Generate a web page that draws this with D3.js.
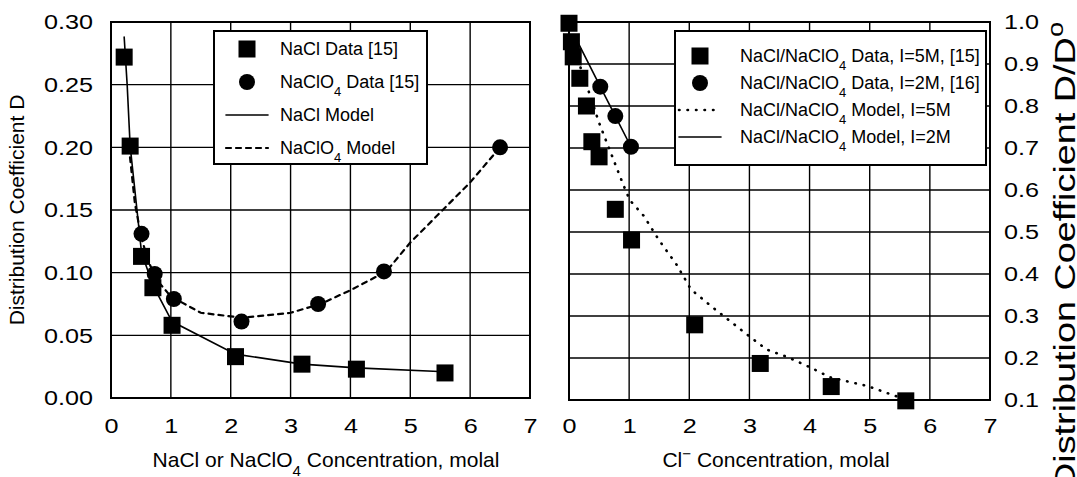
<!DOCTYPE html>
<meta charset="utf-8">
<title>Distribution coefficient D vs concentration</title>
<script src="https://cdn.jsdelivr.net/npm/d3@7"></script>
<style>
body {
	margin: 0;
	background: #fff;
}
svg {
	display: block;
	font-family: 'Liberation Sans', Arial, Helvetica, sans-serif;
}
</style>
<body>
<script>
// Left panel: D vs NaCl or NaClO4 concentration (molal)
const naclData = [
	[0.22, 0.272], [0.32, 0.201], [0.51, 0.113], [0.70, 0.088], [1.02, 0.058],
	[2.08, 0.033], [3.19, 0.027], [4.10, 0.023], [5.58, 0.020],
];
const naclo4Data = [
	[0.51, 0.131], [0.73, 0.099], [1.05, 0.079], [2.18, 0.061],
	[3.46, 0.075], [4.56, 0.101], [6.50, 0.200],
];
const naclModel = [
	[0.22, 0.288], [0.27, 0.250], [0.32, 0.201], [0.51, 0.116], [0.70, 0.090],
	[1.02, 0.061], [2.08, 0.035], [3.19, 0.027], [4.10, 0.024], [5.58, 0.021],
];
const naclo4Model = [
	[0.30, 0.200], [0.40, 0.155], [0.50, 0.130], [0.60, 0.112], [0.75, 0.095],
	[1.00, 0.081], [1.50, 0.068], [2.20, 0.064], [3.00, 0.068], [3.50, 0.075],
	[4.00, 0.086], [4.60, 0.101], [5.00, 0.124], [5.50, 0.148], [6.00, 0.172],
	[6.50, 0.200],
];

// Right panel: D/D0 vs Cl- concentration (molal)
const mix5Data = [
	[0.00, 0.997], [0.04, 0.953], [0.07, 0.917], [0.18, 0.866], [0.29, 0.800],
	[0.38, 0.715], [0.50, 0.679], [0.77, 0.554], [1.04, 0.481], [2.09, 0.279],
	[3.18, 0.187], [4.36, 0.132], [5.60, 0.098],
];
const mix2Data = [
	[0.52, 0.846], [0.77, 0.776], [1.03, 0.703],
];
const mix5Model = [
	[0.10, 0.930], [0.32, 0.838], [0.50, 0.760], [0.71, 0.683], [0.89, 0.617],
	[1.01, 0.576], [1.24, 0.539], [1.50, 0.480], [1.79, 0.422], [2.03, 0.363],
	[2.41, 0.318], [3.04, 0.247], [3.29, 0.220], [3.62, 0.203], [4.02, 0.177],
	[4.34, 0.154], [4.97, 0.133], [5.46, 0.108], [5.60, 0.100],
];
const mix2Model = [
	[0.10, 0.965], [0.52, 0.846], [0.77, 0.776], [1.03, 0.703],
];

const xTicks = [0, 1, 2, 3, 4, 5, 6, 7];
const leftYTicks = [0, 0.05, 0.10, 0.15, 0.20, 0.25, 0.30];
const rightYTicks = [0.1, 0.2, 0.3, 0.4, 0.5, 0.6, 0.7, 0.8, 0.9, 1.0];

// Layout
const width = 1077;
const height = 477;
const tickFont = 21;
const tickStretch = 1.2;
const titleFont = 21;
const legendFont = 18;
const squareSize = 17;
const circleRadius = 8;

const svg = d3.select('body')
	.append('svg')
		.attr('width', width)
		.attr('height', height);

const xLeft = d3.scaleLinear().domain([0, 7]).range([111, 530]);
const yLeft = d3.scaleLinear().domain([0, 0.30]).range([398, 22]);
const xRight = d3.scaleLinear().domain([0, 7]).range([569, 990]);
const yRight = d3.scaleLinear().domain([0.1, 1.0]).range([400, 22]);

function drawFrame(x, y, yTicks) {
	const [x0, x1] = x.range();
	const [y0, y1] = y.range();
	const g = svg.append('g');
	g.selectAll('.vgrid')
		.data(xTicks.slice(1, -1))
		.enter()
		.append('line')
			.attr('x1', d => x(d))
			.attr('x2', d => x(d))
			.attr('y1', y0)
			.attr('y2', y1)
			.attr('stroke', '#000')
			.attr('stroke-width', 1.4);
	g.selectAll('.hgrid')
		.data(yTicks.slice(1, -1))
		.enter()
		.append('line')
			.attr('x1', x0)
			.attr('x2', x1)
			.attr('y1', d => y(d))
			.attr('y2', d => y(d))
			.attr('stroke', '#000')
			.attr('stroke-width', 1.4);
	g.append('rect')
		.attr('x', x0)
		.attr('y', y1)
		.attr('width', x1 - x0)
		.attr('height', y0 - y1)
		.attr('fill', 'none')
		.attr('stroke', '#000')
		.attr('stroke-width', 2);
}

function styleAxis(axisG) {
	axisG.select('.domain').remove();
	axisG.attr('font-family', null).attr('font-size', tickFont);
	axisG.selectAll('text')
		.attr('fill', '#000')
		.attr('transform', `scale(${tickStretch},1)`);
}

function drawLine(data, x, y, dash, strokeWidth) {
	svg.append('path')
		.datum(data)
		.attr('fill', 'none')
		.attr('stroke', '#000')
		.attr('stroke-width', strokeWidth)
		.attr('stroke-linecap', 'round')
		.attr('stroke-dasharray', dash)
		.attr('d', d3.line().x(d => x(d[0])).y(d => y(d[1])));
}

function drawSquares(data, x, y) {
	svg.append('g')
		.selectAll('rect')
		.data(data)
		.enter()
		.append('rect')
			.attr('x', d => x(d[0]) - squareSize / 2)
			.attr('y', d => y(d[1]) - squareSize / 2)
			.attr('width', squareSize)
			.attr('height', squareSize)
			.attr('fill', '#000');
}

function drawCircles(data, x, y) {
	svg.append('g')
		.selectAll('circle')
		.data(data)
		.enter()
		.append('circle')
			.attr('cx', d => x(d[0]))
			.attr('cy', d => y(d[1]))
			.attr('r', circleRadius)
			.attr('fill', '#000');
}

// Text made of parts: plain strings or [text, 'sub' | 'super']
function richText(sel, parts) {
	parts.forEach(p => {
		if (typeof p === 'string') {
			sel.append('tspan').text(p);
		}
		else {
			sel.append('tspan')
				.attr('baseline-shift', p[1])
				.attr('font-size', '0.72em')
				.text(p[0]);
		}
	});
}

function drawLegend(box, rows) {
	const g = svg.append('g');
	g.append('rect')
		.attr('x', box.x)
		.attr('y', box.y)
		.attr('width', box.w)
		.attr('height', box.h)
		.attr('fill', '#fff')
		.attr('stroke', '#000')
		.attr('stroke-width', 2);
	rows.forEach((row, i) => {
		const cy = box.y + box.first + i * box.step;
		const mx = box.x + box.marker;
		if (row.type === 'square') {
			g.append('rect')
				.attr('x', mx - squareSize / 2)
				.attr('y', cy - squareSize / 2)
				.attr('width', squareSize)
				.attr('height', squareSize);
		}
		else if (row.type === 'circle') {
			g.append('circle')
				.attr('cx', mx)
				.attr('cy', cy)
				.attr('r', circleRadius);
		}
		else {
			g.append('line')
				.attr('x1', mx - box.lineHalf)
				.attr('x2', mx + box.lineHalf)
				.attr('y1', cy)
				.attr('y2', cy)
				.attr('stroke', '#000')
				.attr('stroke-width', row.width)
				.attr('stroke-linecap', 'round')
				.attr('stroke-dasharray', row.dash);
		}
		const t = g.append('text')
			.attr('x', box.x + box.text)
			.attr('y', cy)
			.attr('dy', '0.35em')
			.attr('font-size', legendFont);
		richText(t, row.label);
	});
}

// Left panel
drawFrame(xLeft, yLeft, leftYTicks);
svg.append('g')
	.attr('transform', `translate(0,${yLeft(0)})`)
	.call(d3.axisBottom(xLeft).tickValues(xTicks).tickSize(0).tickPadding(20).tickFormat(d3.format('d')))
	.call(styleAxis);
svg.append('g')
	.attr('transform', `translate(${xLeft(0)},0)`)
	.call(d3.axisLeft(yLeft).tickValues(leftYTicks).tickSize(0).tickPadding(18 / tickStretch).tickFormat(d3.format('.2f')))
	.call(styleAxis);

drawLine(naclModel, xLeft, yLeft, null, 1.6);
drawLine(naclo4Model, xLeft, yLeft, '5,5', 2.2);
drawSquares(naclData, xLeft, yLeft);
drawCircles(naclo4Data, xLeft, yLeft);

drawLegend({ x: 214, y: 31, w: 213, h: 133, first: 18, step: 33, marker: 33, lineHalf: 21, text: 66 }, [
	{ type: 'square', label: ['NaCl Data [15]'] },
	{ type: 'circle', label: ['NaClO', ['4', 'sub'], ' Data [15]'] },
	{ type: 'line', width: 1.6, dash: null, label: ['NaCl Model'] },
	{ type: 'line', width: 2.2, dash: '5,5', label: ['NaClO', ['4', 'sub'], ' Model'] },
]);

svg.append('text')
	.attr('x', 326)
	.attr('y', 467)
	.attr('text-anchor', 'middle')
	.attr('font-size', titleFont)
	.call(richText, ['NaCl or NaClO', ['4', 'sub'], ' Concentration, molal']);
svg.append('text')
	.attr('transform', `translate(24,${(yLeft.range()[0] + yLeft.range()[1]) / 2}) rotate(-90)`)
	.attr('text-anchor', 'middle')
	.attr('font-size', titleFont)
	.text('Distribution Coefficient D');

// Right panel
drawFrame(xRight, yRight, rightYTicks);
svg.append('g')
	.attr('transform', `translate(0,${yRight(0.1)})`)
	.call(d3.axisBottom(xRight).tickValues(xTicks).tickSize(0).tickPadding(18).tickFormat(d3.format('d')))
	.call(styleAxis);
svg.append('g')
	.attr('transform', `translate(${xRight(7)},0)`)
	.call(d3.axisRight(yRight).tickValues(rightYTicks).tickSize(0).tickPadding(14 / tickStretch).tickFormat(d3.format('.1f')))
	.call(styleAxis);

drawLine(mix5Model, xRight, yRight, '0.5,8', 2.6);
drawLine(mix2Model, xRight, yRight, null, 1.6);
drawSquares(mix5Data, xRight, yRight);
drawCircles(mix2Data, xRight, yRight);

drawLegend({ x: 675, y: 31, w: 311, h: 134, first: 25, step: 27, marker: 25, lineHalf: 21, text: 65 }, [
	{ type: 'square', label: ['NaCl/NaClO', ['4', 'sub'], ' Data, I=5M, [15]'] },
	{ type: 'circle', label: ['NaCl/NaClO', ['4', 'sub'], ' Data, I=2M, [16]'] },
	{ type: 'line', width: 2.6, dash: '0.5,8', label: ['NaCl/NaClO', ['4', 'sub'], ' Model, I=5M'] },
	{ type: 'line', width: 1.6, dash: null, label: ['NaCl/NaClO', ['4', 'sub'], ' Model, I=2M'] },
]);

svg.append('text')
	.attr('x', 776)
	.attr('y', 467)
	.attr('text-anchor', 'middle')
	.attr('font-size', titleFont)
	.call(richText, ['Cl', ['\u2212', 'super'], ' Concentration, molal']);
svg.append('text')
	.attr('transform', 'translate(1075,22) rotate(-90)')
	.attr('text-anchor', 'end')
	.attr('font-size', 30)
	.attr('textLength', 468)
	.attr('lengthAdjust', 'spacingAndGlyphs')
	.call(richText, ['Distribution Coefficient D/D', ['o', 'super']]);
</script>
</body>
